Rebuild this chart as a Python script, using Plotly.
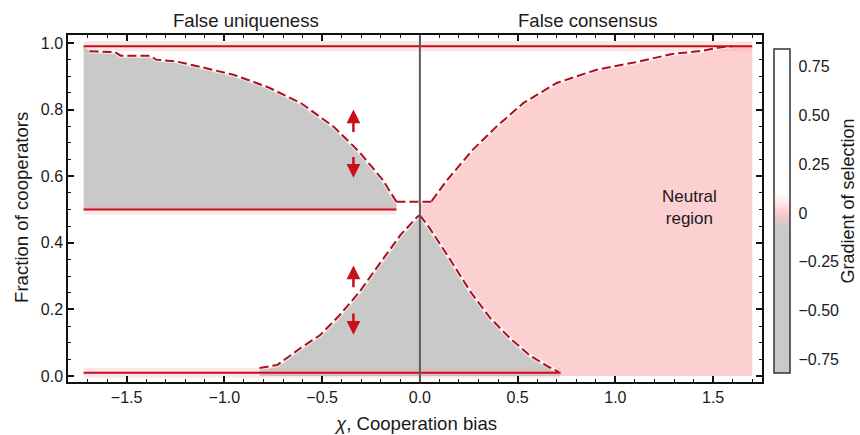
import plotly.graph_objects as go

# ---------------- data ----------------
# upper-left boundary (false uniqueness, upper branch)
upper_x = [-1.69, -1.56, -1.53, -1.38, -1.35, -1.25, -1.12, -0.95, -0.78, -0.61, -0.44, -0.31, -0.19, -0.12]
upper_y = [0.975, 0.973, 0.962, 0.962, 0.950, 0.945, 0.928, 0.904, 0.868, 0.820, 0.748, 0.673, 0.589, 0.523]
# short flat connecting part near chi = 0
flat_x = [-0.12, 0.06]
flat_y = [0.523, 0.523]
# rising boundary (false consensus)
rise_x = [0.06, 0.14, 0.27, 0.39, 0.53, 0.70, 0.90, 1.11, 1.29, 1.44, 1.55, 1.60]
rise_y = [0.525, 0.589, 0.679, 0.748, 0.820, 0.880, 0.919, 0.943, 0.967, 0.976, 0.988, 0.990]
# lower-left boundary
lowl_x = [-0.82, -0.73, -0.61, -0.51, -0.41, -0.31, -0.20, -0.10, -0.015, 0.0]
lowl_y = [0.024, 0.033, 0.084, 0.123, 0.183, 0.252, 0.342, 0.423, 0.477, 0.483]
# lower-right descending boundary
desc_x = [0.0, 0.05, 0.15, 0.26, 0.36, 0.46, 0.56, 0.66, 0.71]
desc_y = [0.483, 0.444, 0.354, 0.252, 0.174, 0.114, 0.063, 0.027, 0.012]

# stable equilibria (solid lines): [x_start, x_end, y]
stable_top = [-1.72, 1.70, 0.99]
stable_mid = [-1.72, -0.12, 0.50]
stable_bot = [-1.72, 0.72, 0.01]

x_min, x_max = -1.72, 1.70

# arrows: (x, tail_y, head_y)
arrows = [(-0.34, 0.728, 0.800), (-0.34, 0.662, 0.595),
          (-0.34, 0.262, 0.332), (-0.34, 0.192, 0.124)]

cbar_vals = [-0.75, -0.50, -0.25, 0.0, 0.25, 0.50, 0.75]
cbar_text = ["\u22120.75", "\u22120.50", "\u22120.25", "0", "0.25", "0.50", "0.75"]
x_ticks = [-1.5, -1.0, -0.5, 0.0, 0.5, 1.0, 1.5]
y_ticks = [0.0, 0.2, 0.4, 0.6, 0.8, 1.0]

# ---------------- style ----------------
GRAY = "#c9c9c9"
PINK = "#fccfd1"
RED_SOLID = "#c0121c"
RED_DASH = "#ad0f1b"
FONT = "Liberation Sans, Arial, sans-serif"
TXT = "#1a1a1a"
PW, PH, ML, MB, MT = 693.5, 347.0, 68, 53, 35


def px_to_paper_x(px):
    return (px - ML) / PW


def px_to_paper_y(py):
    return (435 - MB - py) / PH


fig = go.Figure()

# pink neutral region (right)
px_ = desc_x + [0.72, x_max, x_max] + rise_x[::-1] + [0.0]
py_ = desc_y + [0.0, 0.0, 0.99] + rise_y[::-1] + [0.523]
fig.add_trace(go.Scatter(x=px_, y=py_, fill="toself", fillcolor=PINK, mode="none",
                         hoverinfo="skip"))

# gray region upper-left
gx = [x_min, x_min] + upper_x + [upper_x[-1]]
gy = [0.50, 0.99] + upper_y + [0.50]
fig.add_trace(go.Scatter(x=gx, y=gy, fill="toself", fillcolor=GRAY, mode="none",
                         hoverinfo="skip"))

# gray region bottom (triangle)
bx = lowl_x + desc_x[1:] + [0.72, lowl_x[0]]
by = lowl_y + desc_y[1:] + [0.0, 0.0]
fig.add_trace(go.Scatter(x=bx, y=by, fill="toself", fillcolor=GRAY, mode="none",
                         hoverinfo="skip"))

# soft glows of stable lines
for s in (stable_top, stable_mid, stable_bot):
    fig.add_trace(go.Scatter(x=[s[0], s[1]], y=[s[2], s[2]], mode="lines",
                             line=dict(color="rgba(250,170,175,0.30)", width=10),
                             hoverinfo="skip"))

# unstable boundaries: white halo + dashed red
curves = [(upper_x, upper_y), (flat_x, flat_y), (rise_x, rise_y), (lowl_x, lowl_y), (desc_x, desc_y)]
for cx, cy in curves:
    fig.add_trace(go.Scatter(x=cx, y=cy, mode="lines",
                             line=dict(color="rgba(255,255,255,0.7)", width=4),
                             hoverinfo="skip"))
for cx, cy in curves:
    fig.add_trace(go.Scatter(x=cx, y=cy, mode="lines",
                             line=dict(color=RED_DASH, width=2, dash="9px,4px"),
                             hoverinfo="skip"))

# stable solid lines
for s in (stable_top, stable_mid, stable_bot):
    fig.add_trace(go.Scatter(x=[s[0], s[1]], y=[s[2], s[2]], mode="lines",
                             line=dict(color=RED_SOLID, width=2), hoverinfo="skip"))

# colorbar via dummy trace
cscale = [[0.0, GRAY], [0.45, GRAY], [0.494, "#fbc9cc"], [0.525, "#fdeaea"],
          [0.56, "#ffffff"], [1.0, "#ffffff"]]
fig.add_trace(go.Scatter(
    x=[None], y=[None], mode="markers", hoverinfo="skip",
    marker=dict(color=[0], colorscale=cscale, cmin=-0.82, cmax=0.84, showscale=True,
                colorbar=dict(
                    x=px_to_paper_x(773), xanchor="left", xpad=0,
                    y=px_to_paper_y(211), yanchor="middle", ypad=0,
                    thickness=16, thicknessmode="pixels", len=324, lenmode="pixels",
                    outlinewidth=1.5, outlinecolor="#333333",
                    tickvals=cbar_vals, ticktext=cbar_text,
                    ticks="outside", ticklen=5, tickcolor="rgba(0,0,0,0)",
                    tickfont=dict(size=16, color=TXT, family=FONT),
                ))))

# vertical line at chi = 0
fig.add_shape(type="line", x0=0, x1=0, y0=0, y1=1, xref="x", yref="paper",
              line=dict(color="#5c5c5c", width=2), layer="above")

annotations = []
for ax_, ty, hy in arrows:
    annotations.append(dict(x=ax_, y=hy, ax=ax_, ay=ty, xref="x", yref="y",
                            axref="x", ayref="y", showarrow=True, arrowhead=2,
                            arrowsize=1.1, arrowwidth=2.5, arrowcolor="#c8101a", text=""))

TF = dict(size=18.6, color=TXT, family=FONT)
annotations += [
    dict(text="False uniqueness", x=-0.89, y=px_to_paper_y(21), xref="x", yref="paper",
         showarrow=False, yanchor="middle", font=TF),
    dict(text="False consensus", x=0.86, y=px_to_paper_y(21), xref="x", yref="paper",
         showarrow=False, yanchor="middle", font=TF),
    dict(text="Neutral<br>region", x=1.38, y=0.505, xref="x", yref="y", showarrow=False,
         font=dict(size=17, color=TXT, family=FONT)),
    dict(text="<i>\u03c7</i>, Cooperation bias", x=px_to_paper_x(415), y=px_to_paper_y(424),
         xref="paper", yref="paper", showarrow=False, yanchor="middle", font=TF),
    dict(text="Fraction of cooperators", x=px_to_paper_x(21), y=px_to_paper_y(207),
         xref="paper", yref="paper", showarrow=False, textangle=-90,
         xanchor="center", yanchor="middle", font=TF),
    dict(text="Gradient of selection", x=px_to_paper_x(847), y=px_to_paper_y(201),
         xref="paper", yref="paper", showarrow=False, textangle=-90,
         xanchor="center", yanchor="middle", font=dict(size=18, color=TXT, family=FONT)),
]

fig.update_layout(
    width=860, height=435,
    margin=dict(l=ML, r=98, t=MT, b=MB, autoexpand=False),
    paper_bgcolor="white", plot_bgcolor="white",
    showlegend=False,
    font=dict(family=FONT, size=16, color=TXT),
    annotations=annotations,
    xaxis=dict(range=[-1.8, 1.75], tickvals=x_ticks, tickformat=".1f",
               ticks="inside", ticklen=6, tickwidth=1.5, tickcolor="#111",
               showline=True, linecolor="#111", linewidth=1.5, mirror="allticks",
               showgrid=False, zeroline=False,
               tickfont=dict(size=16, color=TXT),
               minor=dict(dtick=0.1, ticks="inside", ticklen=3, tickwidth=1.2,
                          tickcolor="#111", showgrid=False)),
    yaxis=dict(range=[-0.018, 1.024], tickvals=y_ticks, tickformat=".1f",
               ticks="inside", ticklen=6, tickwidth=1.5, tickcolor="#111",
               showline=True, linecolor="#111", linewidth=1.5, mirror="allticks",
               showgrid=False, zeroline=False,
               tickfont=dict(size=16, color=TXT),
               minor=dict(dtick=0.05, ticks="inside", ticklen=3, tickwidth=1.2,
                          tickcolor="#111", showgrid=False)),
)

fig.write_html("out.html")
